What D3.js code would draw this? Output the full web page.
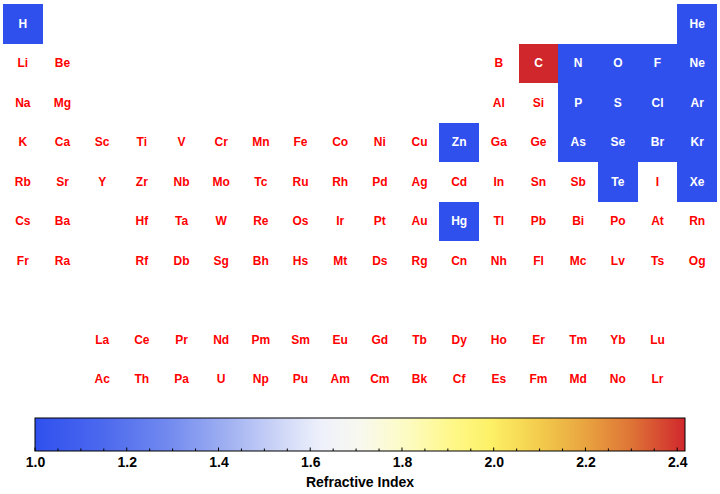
<!DOCTYPE html>
<html><head><meta charset="utf-8">
<script src="https://cdn.jsdelivr.net/npm/d3@7"></script>
<style>body{margin:0;background:#fff}svg{display:block}</style>
</head><body>
<svg id="c" width="720" height="494"></svg>
<script>
// symbol, period(row), group(column)
const symbols = ["H","He","Li","Be","B","C","N","O","F","Ne","Na","Mg","Al","Si","P","S","Cl","Ar",
"K","Ca","Sc","Ti","V","Cr","Mn","Fe","Co","Ni","Cu","Zn","Ga","Ge","As","Se","Br","Kr",
"Rb","Sr","Y","Zr","Nb","Mo","Tc","Ru","Rh","Pd","Ag","Cd","In","Sn","Sb","Te","I","Xe",
"Cs","Ba","Hf","Ta","W","Re","Os","Ir","Pt","Au","Hg","Tl","Pb","Bi","Po","At","Rn",
"Fr","Ra","Rf","Db","Sg","Bh","Hs","Mt","Ds","Rg","Cn","Nh","Fl","Mc","Lv","Ts","Og",
"La","Ce","Pr","Nd","Pm","Sm","Eu","Gd","Tb","Dy","Ho","Er","Tm","Yb","Lu",
"Ac","Th","Pa","U","Np","Pu","Am","Cm","Bk","Cf","Es","Fm","Md","No","Lr"];
const rows = [1,1,2,2,2,2,2,2,2,2,3,3,3,3,3,3,3,3,
4,4,4,4,4,4,4,4,4,4,4,4,4,4,4,4,4,4,
5,5,5,5,5,5,5,5,5,5,5,5,5,5,5,5,5,5,
6,6,6,6,6,6,6,6,6,6,6,6,6,6,6,6,6,
7,7,7,7,7,7,7,7,7,7,7,7,7,7,7,7,7,
9,9,9,9,9,9,9,9,9,9,9,9,9,9,9,
10,10,10,10,10,10,10,10,10,10,10,10,10,10,10];
const cols = [1,18,1,2,13,14,15,16,17,18,1,2,13,14,15,16,17,18,
1,2,3,4,5,6,7,8,9,10,11,12,13,14,15,16,17,18,
1,2,3,4,5,6,7,8,9,10,11,12,13,14,15,16,17,18,
1,2,4,5,6,7,8,9,10,11,12,13,14,15,16,17,18,
1,2,4,5,6,7,8,9,10,11,12,13,14,15,16,17,18,
3,4,5,6,7,8,9,10,11,12,13,14,15,16,17,
3,4,5,6,7,8,9,10,11,12,13,14,15,16,17];
// refractive index (missing elements have no entry)
const refrSymbols = ["H","He","C","N","O","F","Ne","P","S","Cl","Ar","Zn","As","Se","Br","Kr","Te","Xe","Hg"];
const refrValues  = [1.000132,1.000035,2.417,1.000298,1.000271,1.000195,1.000067,1.001212,1.001111,1.000773,1.000281,1.00205,1.001552,1.001565,1.001132,1.000427,1.002495,1.000702,1.000933];
const tickValues = [1.0,1.2,1.4,1.6,1.8,2.0,2.2,2.4];
const legendTitle = "Refractive Index";

const svg = d3.select("#c");
const valueOf = new Map(refrSymbols.map((s,i)=>[s,refrValues[i]]));
const vmin = 1.0, vmax = d3.max(refrValues);

const x = d3.scaleLinear().domain([0.5,18.5]).range([3,717]);
const y = d3.scaleLinear().domain([0.5,10.5]).range([4.3,399.3]);
const cw = x(2)-x(1), ch = y(2)-y(1);

const stops = [
 [0.00,"#3050ee"],[0.10,"#4a68ee"],[0.20,"#7088ef"],[0.30,"#a2b2f2"],[0.38,"#d0d8f7"],
 [0.44,"#eef1fb"],[0.50,"#f8f8ef"],[0.57,"#fdfbc4"],[0.64,"#fef88a"],[0.70,"#fdf167"],
 [0.77,"#f4cf4e"],[0.85,"#e8a23f"],[0.92,"#de7236"],[1.00,"#d0272d"]];
const color = d3.scaleLinear()
  .domain(stops.map(s=>vmin + s[0]*(vmax-vmin)))
  .range(stops.map(s=>s[1]))
  .interpolate(d3.interpolateRgb).clamp(true);

const els = symbols.map((s,i)=>({s, r:rows[i], c:cols[i], v:valueOf.get(s)}));

const g = svg.append("g");
g.selectAll("rect").data(els.filter(d=>d.v!==undefined)).join("rect")
  .attr("x",d=>Math.round(x(d.c)-cw/2)).attr("y",d=>Math.round(y(d.r)-ch/2))
  .attr("width",d=>Math.round(x(d.c)+cw/2)-Math.round(x(d.c)-cw/2))
  .attr("height",d=>Math.round(y(d.r)+ch/2)-Math.round(y(d.r)-ch/2))
  .attr("shape-rendering","crispEdges")
  .attr("fill",d=>color(d.v));
g.selectAll("text").data(els).join("text")
  .attr("x",d=>x(d.c)).attr("y",d=>y(d.r)+3.5)
  .attr("text-anchor","middle")
  .attr("font-family","Liberation Sans, Arial, sans-serif")
  .attr("font-weight","bold").attr("font-size","12px")
  .attr("fill",d=>d.v!==undefined ? "#ffffff" : "#ff0000")
  .text(d=>d.s);

// colorbar
const cb = d3.scaleLinear().domain([vmin,vmax]).range([35,685]);
const cbY = 418, cbH = 33;
const defs = svg.append("defs");
const grad = defs.append("linearGradient").attr("id","grad").attr("x1","0%").attr("x2","100%");
d3.range(0,1.0001,0.02).forEach(t=>{
  grad.append("stop").attr("offset",(t*100)+"%").attr("stop-color",color(vmin+t*(vmax-vmin)));
});
svg.append("rect").attr("x",35).attr("y",cbY).attr("width",650).attr("height",cbH)
  .attr("fill","url(#grad)").attr("stroke","#000").attr("stroke-width",1);

const minor = d3.range(1.0,2.4001,0.05);
svg.append("g").selectAll("line").data(minor).join("line")
  .attr("x1",d=>cb(d)).attr("x2",d=>cb(d))
  .attr("y1",cbY+cbH).attr("y2",d=>cbY+cbH-(Math.abs(d*5-Math.round(d*5))<1e-6?3.5:2.5))
  .attr("stroke","#000").attr("stroke-width",1);

const axis = d3.axisBottom(cb).tickValues(tickValues).tickSize(0).tickFormat(d3.format(".1f"));
const ax = svg.append("g").attr("transform",`translate(0,${cbY+cbH})`).call(axis);
ax.select(".domain").remove();
ax.selectAll("text").attr("dy",0).attr("y",15.5)
  .attr("font-family","Liberation Sans, Arial, sans-serif")
  .attr("font-weight","bold").attr("font-size","14px").attr("fill","#000");

svg.append("text").attr("x",360).attr("y",487).attr("text-anchor","middle")
  .attr("font-family","Liberation Sans, Arial, sans-serif")
  .attr("font-weight","bold").attr("font-size","14px").text(legendTitle);
</script>
</body></html>
